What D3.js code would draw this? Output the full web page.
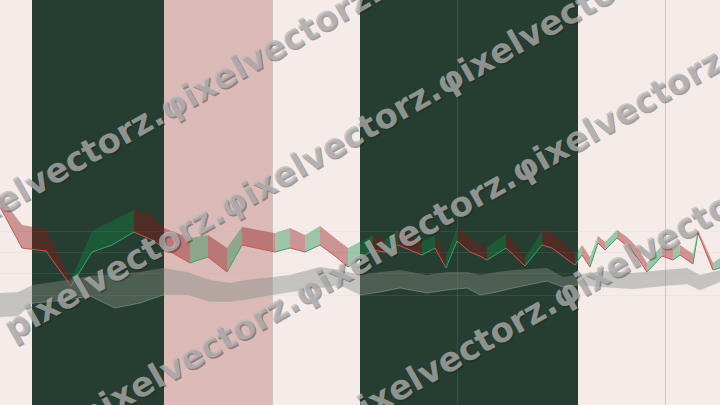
<!DOCTYPE html>
<html><head><meta charset="utf-8">
<script src="https://cdn.jsdelivr.net/npm/d3@7"></script>
<style>html,body{margin:0;padding:0;background:#f5ecea;overflow:hidden} svg{display:block}</style>
</head><body><svg id="chart" width="720" height="405"></svg>
<script>
// ---- data ----
const bandStart = [0, 16, 82, 136, 180, 289];
const bandEnd   = [16, 82, 136, 180, 289, 360];
const bandKind  = ["light", "dark", "pink", "light", "dark", "light"];

const ribbonT = [0, 11, 23, 35.5, 46, 56, 67, 76, 82, 95, 104, 113.5, 121, 137.5, 145, 152.5, 160, 167.5, 174,
  186.5, 192.5, 199, 211, 217.5, 223, 228.5, 235, 240, 243.5, 253, 262.5, 271, 276, 282, 287.5,
  291, 295, 299, 302.5, 308.5, 313.5, 318.5, 323.5, 331, 336.5, 340, 346.5, 349, 356.5, 360];
const ribbonHigh = [41.8, 36.0, 35.2, 25.0, 34.8, 36.8, 39.0, 37.8, 35.4, 33.4, 34.0, 31.4, 35.6, 34.4, 35.4, 34.0, 35.8, 33.4, 31.4,
  34.0, 33.0, 35.0, 32.6, 34.0, 29.4, 35.6, 33.4, 32.0, 31.6, 34.2, 29.4, 34.8, 34.4, 32.4, 30.0,
  32.0, 29.6, 33.8, 32.6, 35.0, 33.6, 31.6, 28.4, 32.0, 31.2, 32.0, 30.2, 35.0, 28.4, 29.4];
const ribbonClose = [39.6, 31.4, 30.8, 23.8, 30.6, 32.0, 34.6, 33.0, 31.4, 28.4, 29.6, 26.6, 32.0, 30.6, 31.4, 30.6, 32.0, 29.8, 27.6,
  31.0, 30.6, 32.0, 30.0, 31.4, 27.4, 32.8, 30.6, 29.8, 29.0, 31.4, 27.8, 32.0, 31.4, 29.6, 28.0,
  30.0, 27.6, 32.4, 31.0, 33.4, 31.8, 29.6, 26.6, 29.8, 29.0, 30.0, 28.2, 34.4, 27.0, 27.4];

const cloudT = [0, 9, 16.5, 33.5, 45, 57.5, 70, 81.5, 93.5, 105, 115, 122.5, 136.5, 145, 160, 170, 180, 190, 200,
  213.5, 223.5, 233.5, 240, 248.5, 256.5, 273.5, 281.5, 288.5, 301.5, 316.5, 331.5, 343.5, 350, 360];
const cloudTop = [22.4, 22.6, 24.0, 25.0, 25.8, 26.2, 26.6, 27.4, 26.6, 25.0, 24.4, 25.0, 25.6, 26.0, 27.6, 27.0, 26.0, 26.6, 27.0,
  26.0, 26.6, 26.6, 26.0, 26.6, 27.0, 27.4, 25.6, 26.0, 26.8, 26.4, 27.0, 27.4, 26.0, 27.0];
const cloudBottom = [17.6, 17.8, 20.4, 21.0, 21.8, 19.4, 20.4, 22.0, 22.0, 20.6, 20.6, 21.0, 22.0, 22.6, 23.4, 24.0, 22.0, 22.6, 23.4,
  22.4, 23.0, 23.4, 22.0, 22.6, 23.4, 24.8, 23.6, 24.0, 23.6, 23.2, 23.8, 24.2, 23.0, 24.6];

const gridXTicks = [136, 228.5, 332.5];
const gridYTicks = [22, 26.4, 30.6, 34.8];
const watermarkText = "pixelvectorz.\u03c6ixelvectorz.\u03c6ixelvectorz.\u03c6ixelvectorz.";

// ---- drawing ----
const W = 720, H = 405;
const svg = d3.select("#chart");
const x = d3.scaleLinear().domain([0, 360]).range([0, W]);
const y = d3.scaleLinear().domain([0, 81]).range([H, 0]);
const bandColor = {light: "#f5ecea", dark: "#263e31", pink: "#dbbab8"};

svg.append("g").selectAll("rect")
  .data(bandStart.map((s, i) => ({s, e: bandEnd[i], k: bandKind[i]})))
  .join("rect")
  .attr("x", d => x(d.s)).attr("y", 0)
  .attr("width", d => x(d.e) - x(d.s)).attr("height", H)
  .attr("fill", d => bandColor[d.k]);

// grid
const gx = svg.append("g").attr("transform", `translate(0,${H})`)
  .call(d3.axisBottom(x).tickValues(gridXTicks).tickSize(-H).tickFormat(""));
gx.select(".domain").remove();
gx.selectAll("line").attr("stroke", "rgba(120,110,110,0.3)");
const gy = svg.append("g")
  .call(d3.axisLeft(y).tickValues(gridYTicks).tickSize(-W).tickFormat(""));
gy.select(".domain").remove();
gy.selectAll("line").attr("stroke", "rgba(170,185,175,0.12)");

// gray cloud
const cloud = cloudT.map((t, i) => ({t, a: cloudTop[i], b: cloudBottom[i]}));
svg.append("path").datum(cloud)
  .attr("d", d3.area().x(d => x(d.t)).y0(d => y(d.b)).y1(d => y(d.a)))
  .attr("fill", "rgba(130,138,132,0.42)");
svg.append("path").datum(cloud)
  .attr("d", d3.line().x(d => x(d.t)).y(d => y(d.b)))
  .attr("fill", "none").attr("stroke", "rgba(190,205,195,0.35)").attr("stroke-width", 1);

// ribbon segments
const pts = ribbonT.map((t, i) => ({t, h: ribbonHigh[i], c: ribbonClose[i]}));
const segs = d3.pairs(pts).map(([p, q]) => ({p, q, up: q.c >= p.c}));
const segArea = d3.area().x(d => x(d.t)).y0(d => y(d.c)).y1(d => y(d.h));
const segLine = d3.line().x(d => x(d.t)).y(d => y(d.c));
const rg = svg.append("g");
rg.selectAll("path.seg").data(segs).join("path").attr("class", "seg")
  .attr("d", d => segArea([d.p, d.q]))
  .attr("fill", d => d.up ? "rgba(15,135,65,0.38)" : "rgba(140,20,20,0.4)");
rg.selectAll("path.ln").data(segs).join("path").attr("class", "ln")
  .attr("d", d => segLine([d.p, d.q]))
  .attr("fill", "none").attr("stroke-width", 1)
  .attr("stroke", d => d.up ? "#2eaa66" : "#d9504f");

// watermark
const wmStarts = [[-48, 243], [12, 341], [87, 429], [345, 432]];
const wm = svg.append("g").attr("font-family", "DejaVu Sans, sans-serif")
  .attr("font-weight", "bold").attr("font-size", 34);
wmStarts.forEach(([sx, sy]) => {
  wm.append("text").attr("transform", `translate(${sx + 1.5},${sy + 1.5}) rotate(-29.5)`)
    .attr("fill", "rgba(30,30,30,0.4)").text(watermarkText);
  wm.append("text").attr("transform", `translate(${sx},${sy}) rotate(-29.5)`)
    .attr("fill", "rgba(185,185,185,0.72)").text(watermarkText);
});
</script></body></html>
